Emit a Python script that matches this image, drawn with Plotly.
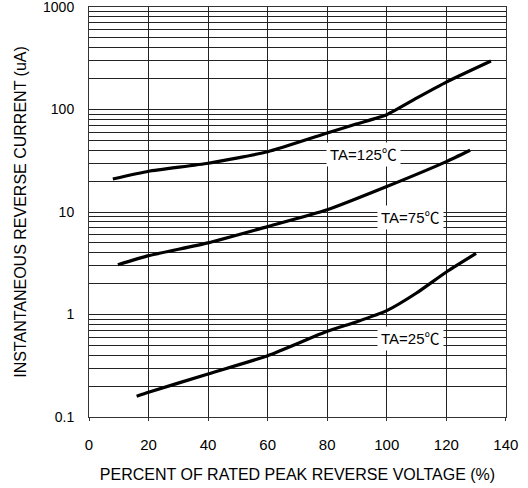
import math
import plotly.graph_objects as go

# Data
x_125 = [8, 20, 40, 60, 80, 90, 100, 110, 120, 135]
y_125 = [21, 25, 29.9, 38.7, 59, 72.5, 89, 129, 185, 297]

x_75 = [9.7, 20, 40, 60, 80, 100, 120, 128]
y_75 = [3.06, 3.75, 5.0, 7.2, 10.5, 17.7, 31, 40]

x_25 = [16, 20, 40, 60, 80, 90, 100, 110, 120, 130]
y_25 = [0.159, 0.174, 0.263, 0.396, 0.685, 0.85, 1.09, 1.62, 2.6, 3.95]

x_ticks = [0, 20, 40, 60, 80, 100, 120, 140]
y_decades = [0.1, 1, 10, 100, 1000]
y_decade_labels = ["0.1", "1", "10", "100", "1000"]

labels = ["TA=125℃", "TA=75℃", "TA=25℃"]
label_x = [92.3, 108, 108]
label_y = [36, 8.9, 0.577]

# grid values for log axis
y_grid = []
for d in [0.1, 1, 10, 100]:
    for m in range(1, 10):
        y_grid.append(round(d * m, 6))
y_grid.append(1000)
y_text = [y_decade_labels[y_decades.index(v)] if v in y_decades else "" for v in y_grid]

FONT = "Liberation Sans, Arial, Noto Sans CJK SC, sans-serif"

fig = go.Figure()
for xs, ys in [(x_125, y_125), (x_75, y_75), (x_25, y_25)]:
    fig.add_trace(go.Scatter(x=xs, y=ys, mode="lines",
                             line=dict(color="black", width=3.2, shape="spline", smoothing=0.5),
                             showlegend=False, hoverinfo="skip", cliponaxis=False))

for t, lx, ly in zip(labels, label_x, label_y):
    fig.add_annotation(x=lx, y=math.log10(ly), yref="y", xref="x", text=t, showarrow=False,
                       bgcolor="white", font=dict(family=FONT, size=15, color="black"),
                       borderpad=3)

fig.update_layout(
    width=528, height=488,
    margin=dict(l=89, r=22, t=7, b=71),
    paper_bgcolor="white", plot_bgcolor="white",
    font=dict(family=FONT, size=15, color="black"),
)
fig.update_xaxes(
    range=[0, 140.05], tickvals=x_ticks, showgrid=True, gridcolor="#222", gridwidth=1,
    showline=True, linecolor="#333", linewidth=1, mirror=True, zeroline=False,
    ticks="outside", ticklen=3, tickcolor="#333", ticklabelstandoff=11,
    automargin=False, ticklabeloverflow="allow",
    title=dict(text="PERCENT OF RATED PEAK REVERSE VOLTAGE (%)", standoff=16,
               font=dict(size=16)),
)
fig.update_yaxes(
    type="log", range=[-1.0003, 3.0003], tickvals=y_grid, ticktext=y_text,
    showgrid=True, gridcolor="#222", gridwidth=1, tickfont=dict(size=14),
    showline=True, linecolor="#333", linewidth=1, mirror=True, zeroline=False,
    ticks="", ticklabelstandoff=11, automargin=False, ticklabeloverflow="allow",
    title=dict(text="INSTANTANEOUS REVERSE CURRENT (uA)", standoff=12,
               font=dict(size=16)),
)

fig.write_html("out.html", config={"displayModeBar": False},
               post_script="document.body.style.margin='0';document.body.style.overflow='hidden';")
